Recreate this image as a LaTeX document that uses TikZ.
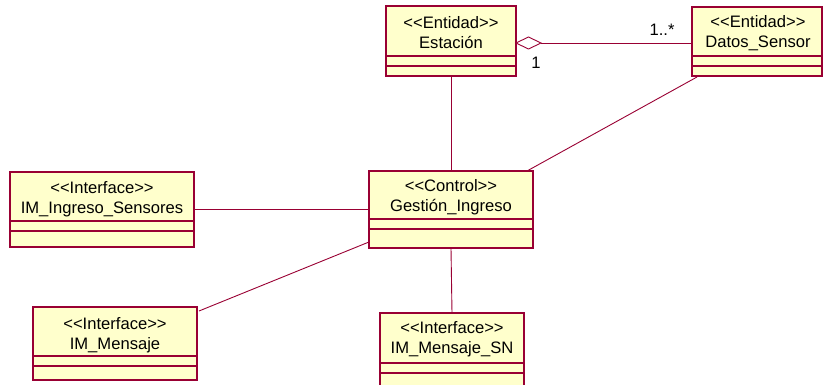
\documentclass[tikz,border=0pt]{standalone}
\usepackage{fontspec}
\setmainfont{Liberation Sans}[Ligatures=TeXOff]
\usetikzlibrary{calc}
\definecolor{umlborder}{RGB}{153,0,51}
\definecolor{umlfill}{RGB}{255,255,204}
\tikzset{
  classbox/.style={draw=umlborder, fill=umlfill, line width=1.2pt, inner sep=0pt, outer sep=0pt, anchor=north west},
  compline/.style={draw=umlborder, line width=1.1pt},
  classtext/.style={align=center, font=\fontsize{16.6}{20}\selectfont, text=black, inner sep=0pt},
  assoc/.style={draw=umlborder, line width=0.9pt},
  mult/.style={font=\fontsize{16.6}{20}\selectfont, text=black, inner sep=0pt}
}
\begin{document}
\begin{tikzpicture}[x=1pt,y=-1pt]
\useasboundingbox (0,0) rectangle (823,385);
\clip (0,0) rectangle (823,385);

% Estacion
\node[classbox, minimum width=130pt, minimum height=70pt] (est) at (386,6) {};
\draw[compline] ($(est.north west)+(0,50)$) -- ($(est.north east)+(0,50)$);
\draw[compline] ($(est.north west)+(0,60)$) -- ($(est.north east)+(0,60)$);
\node[classtext] (estT) at (451,33) {<<Entidad>>\\Estación};

% Datos_Sensor
\node[classbox, minimum width=130pt, minimum height=69pt] (dat) at (692,7) {};
\draw[compline] ($(dat.north west)+(0,49)$) -- ($(dat.north east)+(0,49)$);
\draw[compline] ($(dat.north west)+(0,59)$) -- ($(dat.north east)+(0,59)$);
\node[classtext] (datT) at (758,33) {<<Entidad>>\\Datos\_Sensor};

% Gestion_Ingreso
\node[classbox, minimum width=164pt, minimum height=77pt] (ges) at (369,171) {};
\draw[compline] ($(ges.north west)+(0,48)$) -- ($(ges.north east)+(0,48)$);
\draw[compline] ($(ges.north west)+(0,58)$) -- ($(ges.north east)+(0,58)$);
\node[classtext] (gesT) at (451,197) {<<Control>>\\Gestión\_Ingreso};

% IM_Ingreso_Sensores
\node[classbox, minimum width=184pt, minimum height=75pt] (ing) at (10,172) {};
\draw[compline] ($(ing.north west)+(0,49)$) -- ($(ing.north east)+(0,49)$);
\draw[compline] ($(ing.north west)+(0,59)$) -- ($(ing.north east)+(0,59)$);
\node[classtext] (ingT) at (102,199) {<<Interface>>\\IM\_Ingreso\_Sensores};

% IM_Mensaje
\node[classbox, minimum width=164pt, minimum height=73pt] (men) at (33,307) {};
\draw[compline] ($(men.north west)+(0,49)$) -- ($(men.north east)+(0,49)$);
\draw[compline] ($(men.north west)+(0,59)$) -- ($(men.north east)+(0,59)$);
\node[classtext] (menT) at (115,335) {<<Interface>>\\IM\_Mensaje};

% IM_Mensaje_SN
\node[classbox, minimum width=144pt, minimum height=80pt] (msn) at (380,313) {};
\draw[compline] ($(msn.north west)+(0,50)$) -- ($(msn.north east)+(0,50)$);
\draw[compline] ($(msn.north west)+(0,60)$) -- ($(msn.north east)+(0,60)$);
\node[classtext] (msnT) at (452,339) {<<Interface>>\\IM\_Mensaje\_SN};

% Aggregation Estacion <>-- Datos_Sensor
\coordinate (aggA) at ($(est.north east)+(0,37)$);
\coordinate (aggB) at ($(aggA)+(25,0)$);
\draw[assoc, fill=white] (aggA) -- ++(12.5,-6) -- (aggB) -- ++(-12.5,6) -- cycle;
\draw[assoc] (aggB) -- (aggB -| dat.west);
\node[mult] (m1) at (662,30) {1..*};
\node[mult] (m2) at (536,63) {1};

% Associations
\draw[assoc] (est.south) -- (ges.north);
\draw[assoc] ($(dat.south west)+(5,1)$) -- ($(ges.north east)+(-6,0)$);
\draw[assoc] (ing.east) -- (ing.east -| ges.west);
\draw[assoc] ($(men.north east)+(2,4)$) -- ($(ges.south west)+(0,-6)$);
\draw[assoc] (ges.south) -- (msn.north);
\end{tikzpicture}
\end{document}
